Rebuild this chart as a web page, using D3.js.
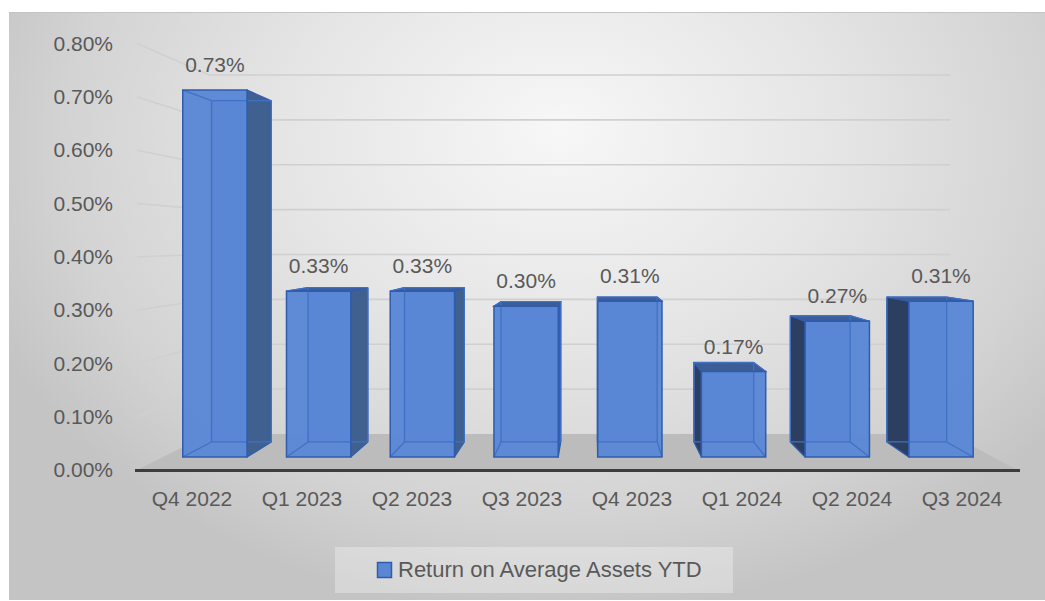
<!DOCTYPE html>
<html><head><meta charset="utf-8">
<script src="https://cdn.jsdelivr.net/npm/d3@7"></script>
<style>body{margin:0;background:#fff}svg{display:block}</style>
</head><body>
<script>
// ---- data ----
const categories = ["Q4 2022","Q1 2023","Q2 2023","Q3 2023","Q4 2023","Q1 2024","Q2 2024","Q3 2024"];
const values = [0.0073, 0.0033, 0.0033, 0.0030, 0.0031, 0.0017, 0.0027, 0.0031];
const yTicks = [0, 0.001, 0.002, 0.003, 0.004, 0.005, 0.006, 0.007, 0.008];
const seriesName = "Return on Average Assets YTD";

// ---- layout ----
const W = 1045, H = 601;
const FONT = "'Liberation Sans', Arial, sans-serif";
const TXT = "#595959";
const VX = 594, VY = 242, GROUND = 470;      // vanishing point and front floor edge
const S_FRONT = 1, S_BAR_F = 0.943, S_BAR_B = 0.877, S_WALL = 0.842; // depth scale factors
const LEFT = 137, RIGHT = 1017;

const svg = d3.select("body").append("svg").attr("width", W).attr("height", H);
const defs = svg.append("defs");
const rg = defs.append("radialGradient").attr("id", "bg")
  .attr("gradientUnits", "userSpaceOnUse")
  .attr("cx", 560).attr("cy", 150).attr("r", 620).attr("fx", 560).attr("fy", 120)
  .attr("gradientTransform", "translate(560,150) scale(1,0.75) translate(-560,-150)");
rg.append("stop").attr("offset", "0%").attr("stop-color", "#f7f7f7");
rg.append("stop").attr("offset", "45%").attr("stop-color", "#e5e5e5");
rg.append("stop").attr("offset", "80%").attr("stop-color", "#d3d3d3");
rg.append("stop").attr("offset", "100%").attr("stop-color", "#c4c4c4");

svg.append("rect").attr("x", 9).attr("y", 12).attr("width", W - 9).attr("height", H - 13)
  .attr("fill", "url(#bg)");
svg.append("line").attr("x1", 9).attr("x2", W).attr("y1", 12.5).attr("y2", 12.5)
  .attr("stroke", "#c4c4c4").attr("stroke-width", 1);

const x = d3.scaleBand().domain(categories).range([LEFT, RIGHT])
  .paddingInner(0.38).paddingOuter(0.19);
const y = d3.scaleLinear().domain([0, 0.008]).range([GROUND, GROUND - 426.4]);
const bw = x.bandwidth();

function P(X, v, s) { return [VX + (X - VX) * s, VY + (y(v) - VY) * s]; }
const line = d3.line();

// gridlines on side wall and back wall
svg.append("g").selectAll("path").data(yTicks.filter(d => d > 0)).join("path")
  .attr("d", v => line([P(LEFT, v, S_FRONT), P(LEFT, v, S_WALL), P(RIGHT, v, S_WALL)]))
  .attr("fill", "none").attr("stroke", "#d0d0d0").attr("stroke-width", 1.6);

// floor
svg.append("path")
  .attr("d", line([P(LEFT, 0, S_FRONT), P(RIGHT, 0, S_FRONT), P(RIGHT, 0, S_WALL), P(LEFT, 0, S_WALL)]) + "Z")
  .attr("fill", "#bcbcbc");
svg.append("line").attr("x1", LEFT - 2).attr("x2", RIGHT + 3)
  .attr("y1", y(0) + 0.5).attr("y2", y(0) + 0.5)
  .attr("stroke", "#3d3d3d").attr("stroke-width", 3);

// bars
const FRONT_FILL = "#5a86d4", EDGE = "#2f5caf", HID = "#4171c4";
const bars = svg.append("g");
categories.forEach((c, i) => {
  const v = values[i];
  const X0 = x(c), X1 = X0 + bw, Xc = X0 + bw / 2;
  const ftl = P(X0, v, S_BAR_F), ftr = P(X1, v, S_BAR_F), fbl = P(X0, 0, S_BAR_F), fbr = P(X1, 0, S_BAR_F);
  const btl = P(X0, v, S_BAR_B), btr = P(X1, v, S_BAR_B), bbl = P(X0, 0, S_BAR_B), bbr = P(X1, 0, S_BAR_B);
  const g = bars.append("g");
  // back face
  g.append("path").attr("d", line([btl, btr, bbr, bbl]) + "Z").attr("fill", FRONT_FILL);
  const rightVisible = Xc < VX;
  // side face
  const side = rightVisible ? [ftr, btr, bbr, fbr] : [ftl, btl, bbl, fbl];
  g.append("path").attr("d", line(side) + "Z")
    .attr("fill", rightVisible ? "#40608f" : "#2d3f60")
    .attr("stroke", EDGE).attr("stroke-width", 1.2).attr("stroke-linejoin", "round");
  // top face if visible
  if (btl[1] < ftl[1]) {
    g.append("path").attr("d", line([ftl, ftr, btr, btl]) + "Z")
      .attr("fill", "#3d5d96").attr("stroke", EDGE).attr("stroke-width", 1.2);
  }
  // front face
  g.append("path").attr("d", line([ftl, ftr, fbr, fbl]) + "Z")
    .attr("fill", FRONT_FILL).attr("fill-opacity", 0.96);
  // hidden edges seen through translucent face
  const hidden = [[btl, bbl], [btr, bbr], [bbl, bbr], [btl, btr],
    rightVisible ? [fbl, bbl] : [fbr, bbr], rightVisible ? [ftl, btl] : [ftr, btr]];
  g.selectAll(".h").data(hidden).join("path").attr("class", "h")
    .attr("d", d => line(d)).attr("stroke", HID).attr("stroke-width", 1.3).attr("fill", "none");
  g.append("path").attr("d", line([ftl, ftr, fbr, fbl]) + "Z")
    .attr("fill", "none").attr("stroke", EDGE).attr("stroke-width", 1.5);
  // data label
  g.append("text").attr("x", ftl[0] + (ftr[0] - ftl[0]) / 2).attr("y", ftl[1] - 18)
    .attr("text-anchor", "middle").attr("font-family", FONT).attr("font-size", 21)
    .attr("fill", TXT).text(d3.format(".2%")(v));
});

// y axis labels (front plane)
const yAx = svg.append("g").attr("transform", "translate(113,0)")
  .call(d3.axisLeft(y).tickValues(yTicks).tickFormat(d3.format(".2%")).tickSize(0).tickPadding(0));
yAx.select(".domain").remove();
yAx.selectAll("text").attr("font-family", FONT).attr("font-size", 21).attr("fill", TXT);

// x axis labels
const xAx = svg.append("g").attr("transform", `translate(0,${GROUND})`)
  .call(d3.axisBottom(x).tickSize(0).tickPadding(21));
xAx.select(".domain").remove();
xAx.selectAll("text").attr("font-family", FONT).attr("font-size", 21).attr("fill", TXT);

// legend
const lg = svg.append("g");
lg.append("rect").attr("x", 335).attr("y", 547).attr("width", 398).attr("height", 46)
  .attr("fill", "#ffffff").attr("fill-opacity", 0.3);
lg.append("rect").attr("x", 377.5).attr("y", 562.5).attr("width", 14).attr("height", 15)
  .attr("fill", FRONT_FILL).attr("stroke", EDGE).attr("stroke-width", 1.5);
lg.append("text").attr("x", 398).attr("y", 577).attr("font-family", FONT).attr("font-size", 22)
  .attr("fill", TXT).text(seriesName);
</script>
</body></html>
